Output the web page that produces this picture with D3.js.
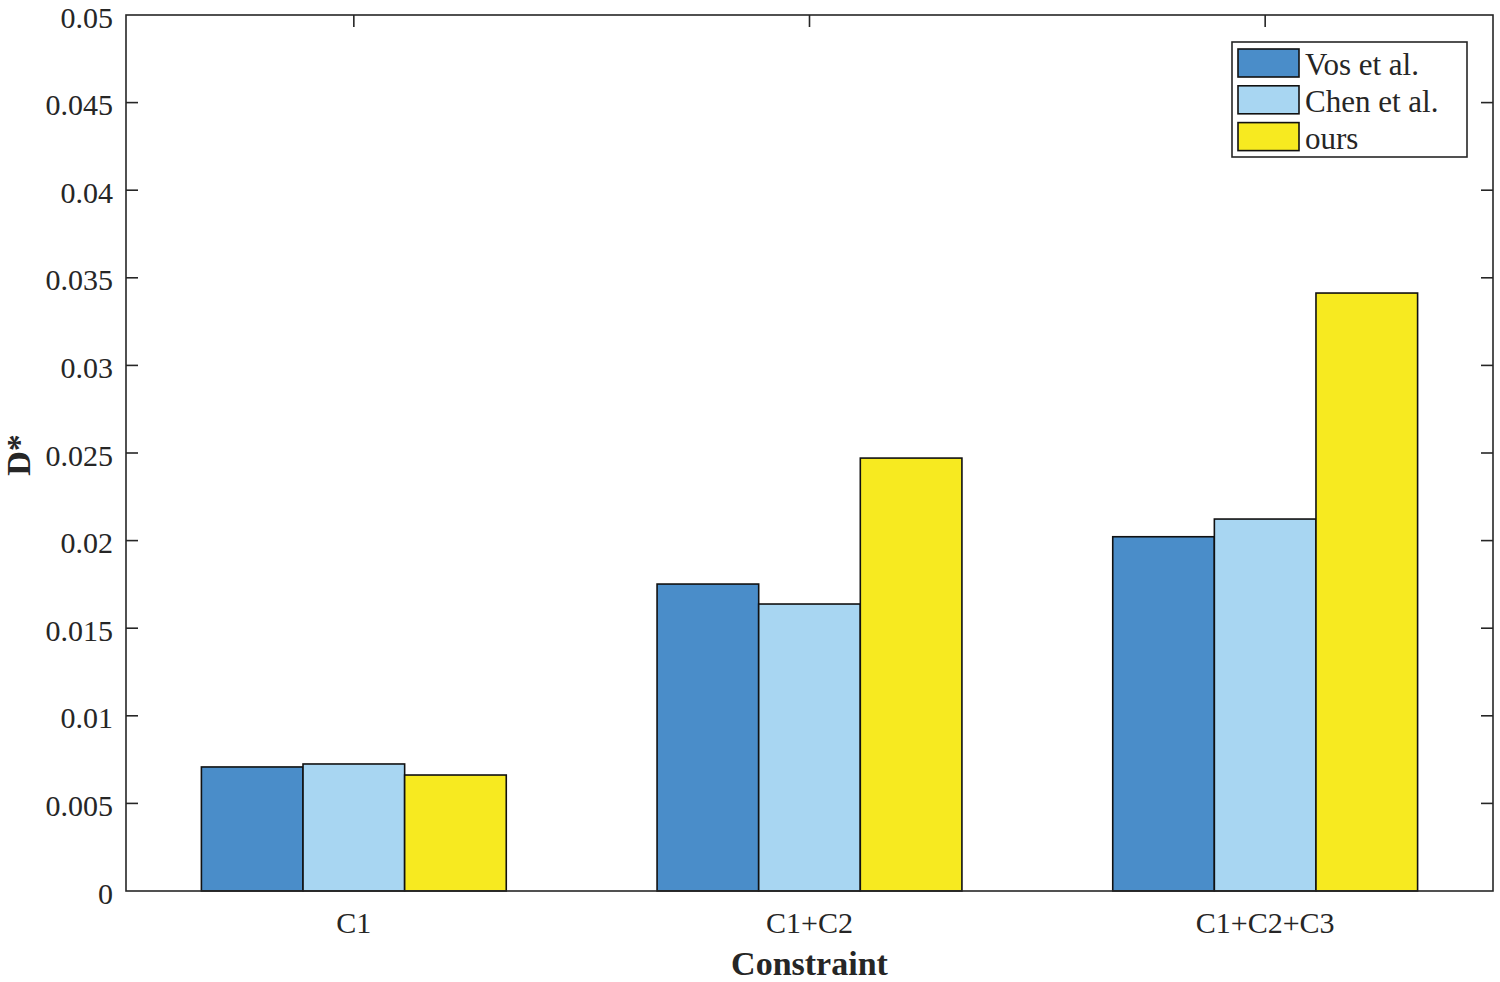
<!DOCTYPE html>
<html>
<head>
<meta charset="utf-8">
<script src="https://cdn.jsdelivr.net/npm/d3@7"></script>
<style>
  html, body { margin: 0; padding: 0; background: #fff; }
  svg text { font-family: "Liberation Serif", "Times New Roman", serif; fill: #262626; }
</style>
</head>
<body>
<div id="chart"></div>
<script>
// data
var categories = ['C1', 'C1+C2', 'C1+C2+C3'];
var seriesNames = ['Vos et al.', 'Chen et al.', 'ours'];
var vosValues = [0.00708, 0.01752, 0.02022];
var chenValues = [0.00725, 0.01638, 0.02123];
var oursValues = [0.00662, 0.02471, 0.03413];
var yTicks = [0, 0.005, 0.01, 0.015, 0.02, 0.025, 0.03, 0.035, 0.04, 0.045, 0.05];
var yTickLabels = ['0', '0.005', '0.01', '0.015', '0.02', '0.025', '0.03', '0.035', '0.04', '0.045', '0.05'];
var colors = ['#4a8dc9', '#a8d6f2', '#f7ea20'];

var width = 1500, height = 982;
var margin = {top: 15, right: 7, bottom: 91, left: 126};
var axisColor = '#262626';
var tickLen = 12;

var seriesValues = [vosValues, chenValues, oursValues];
var table = categories.map(function (c, i) {
    return {category: c, values: seriesValues.map(function (s, j) { return {name: seriesNames[j], value: s[i]}; })};
});

var svg = d3.select('#chart').append('svg')
    .attr('width', width)
    .attr('height', height);

var x = d3.scaleBand()
    .domain(categories)
    .range([margin.left, width - margin.right])
    .paddingInner(0).paddingOuter(0);

var xs = d3.scaleBand()
    .domain(seriesNames)
    .range([0, x.bandwidth()])
    .paddingInner(0).paddingOuter(0.742);

var y = d3.scaleLinear()
    .domain([0, 0.05])
    .range([height - margin.bottom, margin.top]);

var x0 = margin.left, x1 = width - margin.right;
var y0 = height - margin.bottom, y1 = margin.top;

// bars
var groups = svg.append('g').selectAll('g')
    .data(table)
    .enter().append('g')
    .attr('transform', function (d) { return 'translate(' + x(d.category) + ',0)'; });

groups.selectAll('rect')
    .data(function (d) { return d.values; })
    .enter().append('rect')
    .attr('x', function (d) { return xs(d.name); })
    .attr('width', xs.bandwidth())
    .attr('y', function (d) { return y(d.value); })
    .attr('height', function (d) { return y(0) - y(d.value); })
    .style('fill', function (d, i) { return colors[i]; })
    .style('stroke', '#111')
    .style('stroke-width', 1.6);

// axes (MATLAB style box, inward ticks)
var axisG = svg.append('g')
    .style('stroke', axisColor)
    .style('stroke-width', 1.6)
    .style('fill', 'none');

axisG.append('rect')
    .attr('x', x0).attr('y', y1)
    .attr('width', x1 - x0).attr('height', y0 - y1);

yTicks.forEach(function (t) {
    if (t === 0 || t === 0.05) return;
    axisG.append('line')
        .attr('x1', x0).attr('x2', x0 + tickLen)
        .attr('y1', y(t)).attr('y2', y(t));
    axisG.append('line')
        .attr('x1', x1).attr('x2', x1 - tickLen)
        .attr('y1', y(t)).attr('y2', y(t));
});

categories.forEach(function (c) {
    var cx = x(c) + x.bandwidth() / 2;
    axisG.append('line')
        .attr('x1', cx).attr('x2', cx)
        .attr('y1', y1).attr('y2', y1 + tickLen);
});

// y tick labels
svg.append('g').selectAll('text')
    .data(yTicks)
    .enter().append('text')
    .attr('x', x0 - 13)
    .attr('y', function (d) { return y(d); })
    .attr('dy', '0.42em')
    .attr('text-anchor', 'end')
    .attr('font-size', '30px')
    .text(function (d, i) { return yTickLabels[i]; });

// x tick labels
svg.append('g').selectAll('text')
    .data(categories)
    .enter().append('text')
    .attr('x', function (d) { return x(d) + x.bandwidth() / 2; })
    .attr('y', 933)
    .attr('text-anchor', 'middle')
    .attr('font-size', '30px')
    .text(function (d) { return d; });

// axis titles
svg.append('text')
    .attr('x', (x0 + x1) / 2)
    .attr('y', 975)
    .attr('text-anchor', 'middle')
    .attr('font-size', '34px')
    .attr('font-weight', 'bold')
    .text('Constraint');

svg.append('text')
    .attr('transform', 'translate(30,' + ((y0 + y1) / 2 + 2) + ') rotate(-90)')
    .attr('text-anchor', 'middle')
    .attr('font-size', '34px')
    .attr('font-weight', 'bold')
    .text('D*');

// legend
var legend = svg.append('g').attr('transform', 'translate(1232,42)');
legend.append('rect')
    .attr('width', 235).attr('height', 115)
    .style('fill', '#fff')
    .style('stroke', axisColor)
    .style('stroke-width', 1.6);

var items = legend.selectAll('g.item')
    .data(seriesNames)
    .enter().append('g')
    .attr('class', 'item')
    .attr('transform', function (d, i) { return 'translate(0,' + (i * 36.8) + ')'; });

items.append('rect')
    .attr('x', 6).attr('y', 7)
    .attr('width', 61).attr('height', 28)
    .style('fill', function (d, i) { return colors[i]; })
    .style('stroke', '#111')
    .style('stroke-width', 1.6);

items.append('text')
    .attr('x', 73).attr('y', 33)
    .attr('font-size', '31px')
    .text(function (d) { return d; });
</script>
</body>
</html>
